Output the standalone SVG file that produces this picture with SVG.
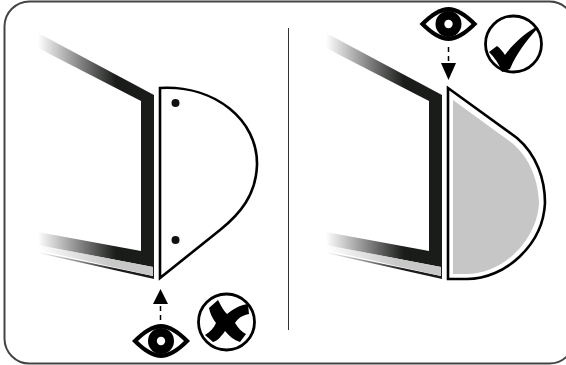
<svg xmlns="http://www.w3.org/2000/svg" width="566" height="365" viewBox="0 0 566 365">
<defs>
<linearGradient id="fade" gradientUnits="userSpaceOnUse" x1="38" y1="0" x2="116" y2="0"><stop offset="0" stop-color="#1a1c1a" stop-opacity="0"/><stop offset="1" stop-color="#1a1c1a"/></linearGradient>
<linearGradient id="fadeGray" gradientUnits="userSpaceOnUse" x1="38" y1="0" x2="110" y2="0"><stop offset="0" stop-color="#c8c8c8" stop-opacity="0"/><stop offset="1" stop-color="#c8c8c8"/></linearGradient>
<g id="frame">
<path d="M38 33L154 95V279L38 253Z" fill="url(#fade)"/>
<path d="M38 48L141 101V251L38 232Z" fill="#fff"/>
<path d="M38 245L153 267V276L38 252Z" fill="#fff"/>
<path d="M38 245L153 267V276L38 250Z" fill="url(#fadeGray)"/>
</g>
<g id="eye">
<path d="M-29 0C-17 -12 -8 -17 0 -17C8 -17 17 -12 29 0C17 12 8 17 0 17C-8 17 -17 12 -29 0Z" fill="#000"/>
<path d="M-23 0C-15 -8 -8 -12 0 -12.500C8 -12 15 -8 23 0C15 8 8 12 0 12.500C-8 12 -15 8 -23 0Z" fill="#fff"/>
<circle r="13" fill="#000"/>
<circle r="4.200" fill="#fff"/>
</g>
</defs>
<style>
.door{fill:#fff;stroke:#000;stroke-width:2.600;stroke-linejoin:miter}
.ring{fill:#fff;stroke:#000;stroke-width:2.800}
.dash{fill:none;stroke:#000;stroke-width:1.500;stroke-dasharray:5 4}
</style>
<rect x="4.500" y="1.500" width="570" height="362" rx="25" fill="#fff" stroke="#444" stroke-width="2"/>
<path d="M288.500 28V330" stroke="#333" stroke-width="1" fill="none"/>
<g id="left-frame"><use href="#frame"/></g>
<g id="left-door">
<path class="door" d="M160 88C215 85 258 120 257 165C256 195 240 214 220 230L160 278Z"/>
<circle cx="175.500" cy="103" r="4" fill="#111"/>
<circle cx="175.500" cy="240" r="4" fill="#111"/>
</g>
<g id="left-eye"><use href="#eye" x="161" y="341"/></g>
<g id="left-cross">
<circle class="ring" cx="226.500" cy="322" r="28"/>
<path d="M218 300C221 306 224 311 227 314C233 309 240 305 248 304L249 314C243 315 238 318 235 323C238 328 242 332 246 334L240 342C234 340 229 336 225 331C221 337 217 341 213 342L205 335C210 332 214 328 216 323C212 318 210 313 209 308Z" fill="#000"/>
</g>
<g id="connectors">
<path class="dash" d="M160.500 320V304"/>
<path d="M160.500 289L168 304H153Z" fill="#000"/>
<path class="dash" d="M448.500 47V63"/>
<path d="M448.500 80L441 63H456Z" fill="#000"/>
</g>
<g id="right-frame"><use href="#frame" x="288" y="0"/></g>
<g id="right-door">
<path class="door" d="M448 88L517 138C537 155 545 180 545 203C543 245 505 279 467 279H448Z"/>
<path d="M453 100L512 143C530 158 538 180 539 203C537 241 502 274 467 274H453Z" fill="#c6c6c6"/>
</g>
<g id="right-eye"><use href="#eye" x="448.500" y="24"/></g>
<g id="right-check">
<circle class="ring" cx="513.500" cy="44" r="28"/>
<path d="M489 52L497 46C500 48 503 52 505 55C513 44 524 34 536 27L537 29C527 40 516 54 510 69L502 72C499 64 495 58 489 52Z" fill="#000"/>
</g>
</svg>
